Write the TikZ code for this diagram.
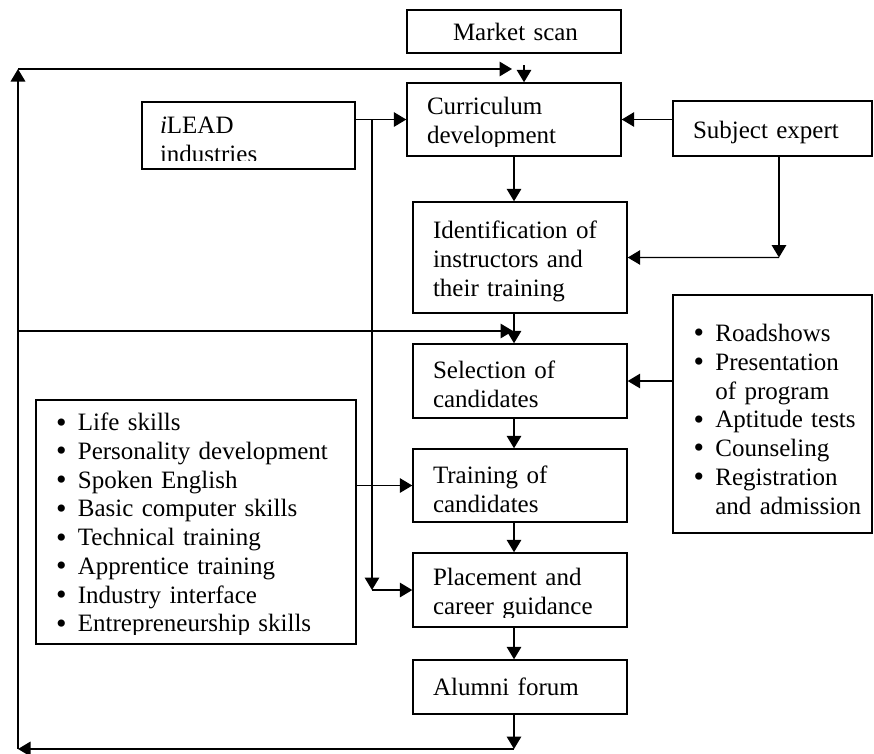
\documentclass[tikz,border=0pt]{standalone}
\usepackage{fontspec}
\setmainfont{Liberation Serif}
\usetikzlibrary{arrows.meta,fit}

\newcommand{\pxu}{0.48pt}
\newcommand{\bul}{\makebox[10.5pt][l]{\raisebox{-0.7pt}{\scalebox{1.2}{\textbullet}}}}
\newcommand{\nobul}{\hspace*{10.5pt}}

\tikzset{
  stage/.style={draw, rectangle, inner sep=0pt, line width=0.7pt},
  inlay/.style={anchor=north west, inner sep=0pt, outer sep=0pt, minimum width=0pt, minimum height=0pt,
    draw=none, fill=none, text width=200pt, align=left, font=\fontsize{12}{13.8}\selectfont},
  boxtext/.style n args={4}{path picture={
    \clip ([yshift=#3*\pxu]path picture bounding box.south west) rectangle (path picture bounding box.north east);
    \node[inlay] at ([xshift=#1*\pxu, yshift=9.66pt-#2*\pxu]path picture bounding box.north west) {\strut #4};}},
  flow/.style={line width=0.7pt, -{Triangle[length=6pt,width=7pt]}},
}

\begin{document}
\begin{tikzpicture}[x=\pxu, y=-\pxu]
\useasboundingbox (0,0) rectangle (874,753);
\node[stage, fit={(407,10) (621,53)}, boxtext={46}{33}{5}{Market scan}] (market) {};
\node[stage, fit={(407,83) (621,156)}, boxtext={20}{32}{10}{Curriculum\\development}] (curr) {};
\node[stage, fit={(142,102) (355,169)}, boxtext={18}{33}{9}{\textit{i}LEAD\\industries}] (ilead) {};
\node[stage, fit={(673,101) (872,156)}, boxtext={20}{34}{10}{Subject expert}] (subj) {};
\node[stage, fit={(413,202) (627,313)}, boxtext={20}{33}{10}{Identification of\\instructors and\\their training}] (ident) {};
\node[stage, fit={(413,344) (627,418)}, boxtext={20}{32.5}{10}{Selection of\\candidates}] (sel) {};
\node[stage, fit={(413,449) (627,522)}, boxtext={20}{33}{9}{Training of\\candidates}] (train) {};
\node[stage, fit={(413,553) (627,627)}, boxtext={20}{33}{10}{Placement and\\career guidance}] (place) {};
\node[stage, fit={(413,660) (627,714)}, boxtext={20}{33}{10}{Alumni forum}] (alumni) {};
\node[stage, fit={(673,295) (872,533)}, boxtext={20.5}{34}{10}{\bul Roadshows\\\bul Presentation\\\nobul of program\\\bul Aptitude tests\\\bul Counseling\\\bul Registration\\\nobul and admission}] (road) {};
\node[stage, fit={(36,400) (356,644)}, boxtext={20}{32}{10}{\bul Life skills\\\bul Personality development\\\bul Spoken English\\\bul Basic computer skills\\\bul Technical training\\\bul Apprentice training\\\bul Industry interface\\\bul Entrepreneurship skills}] (skills) {};
\coordinate (mscan) at (524,65);
\coordinate (loopSE) at (514,749);
\coordinate (loopSW) at (18,749);
\coordinate (loopNW) at (18,69);
\coordinate (loopNE) at (512,69);
\coordinate (loopW) at (18,331);
\coordinate (selin) at (513,331);
\coordinate (ilbranch) at (372,119.5);
\coordinate (ilfoot) at (372,590);
\coordinate (subjfoot) at (779,257.5);
\draw[flow] (mscan) -- (mscan |- curr.north);
\draw[flow] (curr.south) -- (curr.south |- ident.north);
\draw[flow] (ident.south -| curr.south) -- (sel.north -| curr.south);
\draw[flow] (sel.south -| curr.south) -- (train.north -| curr.south);
\draw[flow] (train.south -| curr.south) -- (place.north -| curr.south);
\draw[flow] (place.south -| curr.south) -- (alumni.north -| curr.south);
\draw[flow] (alumni.south -| curr.south) -- (loopSE);
\draw[flow] (loopSE) -- (loopSW);
\draw[flow] (loopSW) -- (loopNW);
\draw[flow] (loopNW) -- (loopNE);
\draw[flow] (loopW) -- (selin);
\draw[flow] (ilead.east |- curr.west) -- (curr.west);
\draw[flow] (ilbranch) -- (ilfoot);
\draw[flow] (ilfoot) -- (place.west);
\draw[flow] (skills.east |- train.west) -- (train.west);
\draw[flow] (subj.west |- curr.east) -- (curr.east);
\draw[flow] (subjfoot |- subj.south) -- (subjfoot);
\draw[flow] (subjfoot) -- (ident.east);
\draw[flow] (road.west |- sel.east) -- (sel.east);
\end{tikzpicture}
\end{document}
